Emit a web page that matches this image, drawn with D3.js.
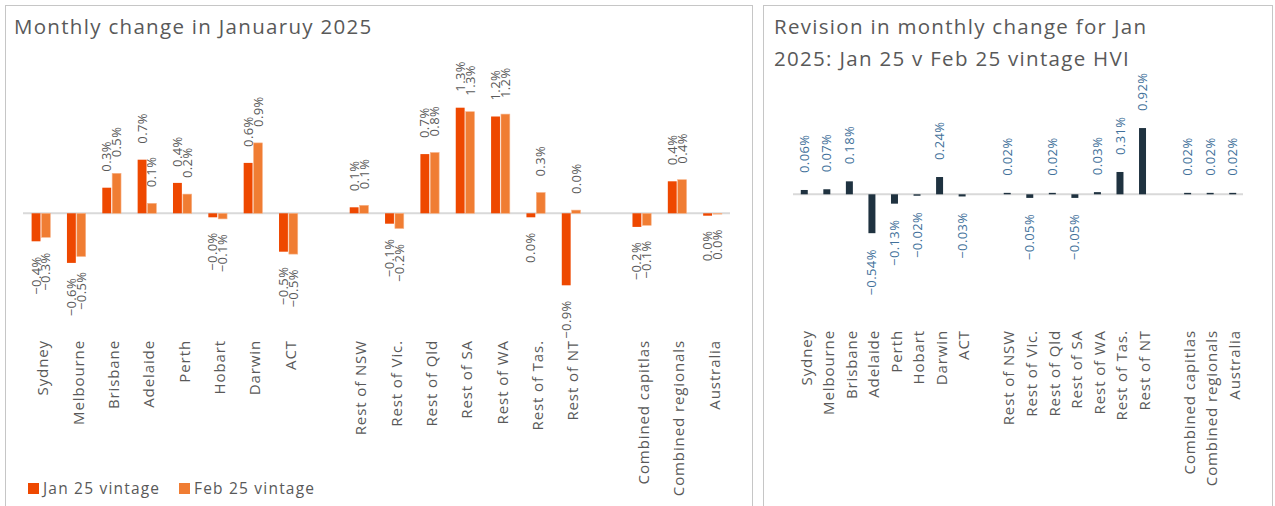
<!DOCTYPE html>
<html>
<head>
<meta charset="utf-8">
<script src="https://cdn.jsdelivr.net/npm/d3@7"></script>
<style>
  body { margin: 0; background: #fff; }
  svg { font-family: "Open Sans", sans-serif; }
</style>
</head>
<body>
<svg id="chart" width="1275" height="506"></svg>
<script>
// categories, with a gap after the capitals and after the regions
var categories = ["Sydney", "Melbourne", "Brisbane", "Adelaide", "Perth", "Hobart", "Darwin", "ACT",
  "Rest of NSW", "Rest of Vic.", "Rest of Qld", "Rest of SA", "Rest of WA", "Rest of Tas.", "Rest of NT",
  "Combined capitlas", "Combined regionals", "Australia"];
var gapsAfter = ["ACT", "Rest of NT"];

// monthly change, %
var janVintage = [-0.35, -0.62, 0.32, 0.67, 0.38, -0.05, 0.63, -0.48,
  0.075, -0.13, 0.74, 1.32, 1.21, -0.05, -0.9, -0.17, 0.40, -0.03];
var febVintage = [-0.30, -0.54, 0.50, 0.125, 0.24, -0.07, 0.88, -0.51,
  0.10, -0.19, 0.76, 1.27, 1.24, 0.26, 0.04, -0.15, 0.42, -0.01];
var janLabels = ["-0.4%", "-0.6%", "0.3%", "0.7%", "0.4%", "-0.0%", "0.6%", "-0.5%",
  "0.1%", "-0.1%", "0.7%", "1.3%", "1.2%", "0.0%", "-0.9%", "-0.2%", "0.4%", "0.0%"];
var febLabels = ["-0.3%", "-0.5%", "0.5%", "0.1%", "0.2%", "-0.1%", "0.9%", "-0.5%",
  "0.1%", "-0.2%", "0.8%", "1.3%", "1.2%", "0.3%", "0.0%", "-0.1%", "0.4%", "0.0%"];

// revision Jan 25 v Feb 25 vintage, %
var revision = [0.06, 0.07, 0.18, -0.54, -0.13, -0.02, 0.24, -0.03,
  0.02, -0.05, 0.02, -0.05, 0.03, 0.31, 0.92, 0.02, 0.02, 0.02];

var seriesNames = ["Jan 25 vintage", "Feb 25 vintage"];
var seriesColors = ["#EE4800", "#F07D33"];

var textGrey = "#595959";
var svg = d3.select("#chart");

// domain with spacer slots
var slots = [];
categories.forEach(function(c) {
  slots.push(c);
  if (gapsAfter.indexOf(c) >= 0) slots.push("gap" + c);
});

function fmtRev(v) { return (v < 0 ? "\u2212" : "") + Math.abs(v).toFixed(2) + "%"; }
function minus(s) { return s.replace("-", "\u2212"); }

// ---------- left panel ----------
svg.append("rect").attr("x", 5.5).attr("y", 5.5).attr("width", 747).attr("height", 530)
  .attr("fill", "none").attr("stroke", "#c6c6c6");

svg.append("text").attr("x", 14).attr("y", 34)
  .attr("font-size", 20.5).attr("letter-spacing", 1.3).attr("fill", textGrey)
  .text("Monthly change in Januaruy 2025");

var x0 = d3.scaleBand().domain(slots).range([23.3, 730.2]).paddingInner(0.47).paddingOuter(0.235);
var x1 = d3.scaleBand().domain([0, 1]).range([0, x0.bandwidth()]).paddingInner(0.1);
var y = d3.scaleLinear().domain([-1, 1.5]).range([293.3, 93.3]);

var left = svg.append("g");
left.append("line").attr("x1", 23).attr("x2", 730)
  .attr("y1", y(0)).attr("y2", y(0)).attr("stroke", "#d9d9d9").attr("stroke-width", 2);

[janVintage, febVintage].forEach(function(vals, s) {
  var labs = s === 0 ? janLabels : febLabels;
  var g = left.append("g");
  g.selectAll("rect").data(vals).enter().append("rect")
    .attr("x", function(d, i) { return x0(categories[i]) + x1(s); })
    .attr("width", x1.bandwidth())
    .attr("y", function(d) { return y(Math.max(0, d)); })
    .attr("height", function(d) { return Math.abs(y(d) - y(0)); })
    .attr("fill", seriesColors[s])
    .attr("stroke", s === 1 ? "#f7b48a" : "none").attr("stroke-width", 0.6);

  g.selectAll("text").data(vals).enter().append("text")
    .attr("transform", function(d, i) {
      var cx = x0(categories[i]) + x1(s) + x1.bandwidth() / 2;
      var cy = d >= 0 ? y(d) - 16 : y(d) + 15;
      return "translate(" + cx + "," + cy + ") rotate(-90)";
    })
    .attr("text-anchor", function(d) { return d >= 0 ? "start" : "end"; })
    .attr("dy", "0.35em")
    .attr("font-size", 13).attr("letter-spacing", 0.4).attr("fill", textGrey)
    .text(function(d, i) { return minus(labs[i]); });
});

left.append("g").selectAll("text").data(categories).enter().append("text")
  .attr("transform", function(d) {
    return "translate(" + (x0(d) + x0.bandwidth() / 2 + 2) + ",340) rotate(-90)";
  })
  .attr("text-anchor", "end").attr("dy", "0.35em")
  .attr("font-size", 15).attr("letter-spacing", 0.9).attr("fill", textGrey)
  .text(function(d) { return d; });

// legend
var legend = svg.append("g").attr("transform", "translate(28,489)");
var legX = [0, 151];
seriesNames.forEach(function(n, i) {
  legend.append("rect").attr("x", legX[i]).attr("y", -6).attr("width", 11).attr("height", 11)
    .attr("fill", seriesColors[i]);
  legend.append("text").attr("x", legX[i] + 15).attr("y", 0).attr("dy", "0.35em")
    .attr("font-size", 15.5).attr("letter-spacing", 1.2).attr("fill", textGrey).text(n);
});

// ---------- right panel ----------
svg.append("rect").attr("x", 763.5).attr("y", 5.5).attr("width", 509).attr("height", 530)
  .attr("fill", "none").attr("stroke", "#c6c6c6");

var titleLines = ["Revision in monthly change for Jan", "2025: Jan 25 v Feb 25 vintage HVI"];
svg.append("g").selectAll("text").data(titleLines).enter().append("text")
  .attr("x", 774).attr("y", function(d, i) { return 34 + i * 32; })
  .attr("font-size", 20.5).attr("letter-spacing", 1.3).attr("fill", textGrey)
  .text(function(d) { return d; });

var xr = d3.scaleBand().domain(slots).range([793, 1244]).paddingInner(0.69).paddingOuter(0.345);
var yr = d3.scaleLinear().domain([-1, 1]).range([266.3, 122.3]);

var right = svg.append("g");
right.append("line").attr("x1", 793).attr("x2", 1243)
  .attr("y1", yr(0)).attr("y2", yr(0)).attr("stroke", "#d9d9d9").attr("stroke-width", 2);

right.append("g").selectAll("rect").data(revision).enter().append("rect")
  .attr("x", function(d, i) { return xr(categories[i]); })
  .attr("width", xr.bandwidth())
  .attr("y", function(d) { return yr(Math.max(0, d)); })
  .attr("height", function(d) { return Math.abs(yr(d) - yr(0)); })
  .attr("fill", "#1F3240");

right.append("g").selectAll("text").data(revision).enter().append("text")
  .attr("transform", function(d, i) {
    var cx = xr(categories[i]) + xr.bandwidth() / 2;
    var cy = d >= 0 ? yr(d) - 17 : yr(d) + 16;
    return "translate(" + cx + "," + cy + ") rotate(-90)";
  })
  .attr("text-anchor", function(d) { return d >= 0 ? "start" : "end"; })
  .attr("dy", "0.35em")
  .attr("font-size", 13).attr("letter-spacing", 0.4).attr("fill", "#41709A")
  .text(fmtRev);

right.append("g").selectAll("text").data(categories).enter().append("text")
  .attr("transform", function(d) {
    return "translate(" + (xr(d) + xr.bandwidth() / 2 + 2) + ",330) rotate(-90)";
  })
  .attr("text-anchor", "end").attr("dy", "0.35em")
  .attr("font-size", 15).attr("letter-spacing", 0.9).attr("fill", textGrey)
  .text(function(d) { return d; });
</script>
</body>
</html>
